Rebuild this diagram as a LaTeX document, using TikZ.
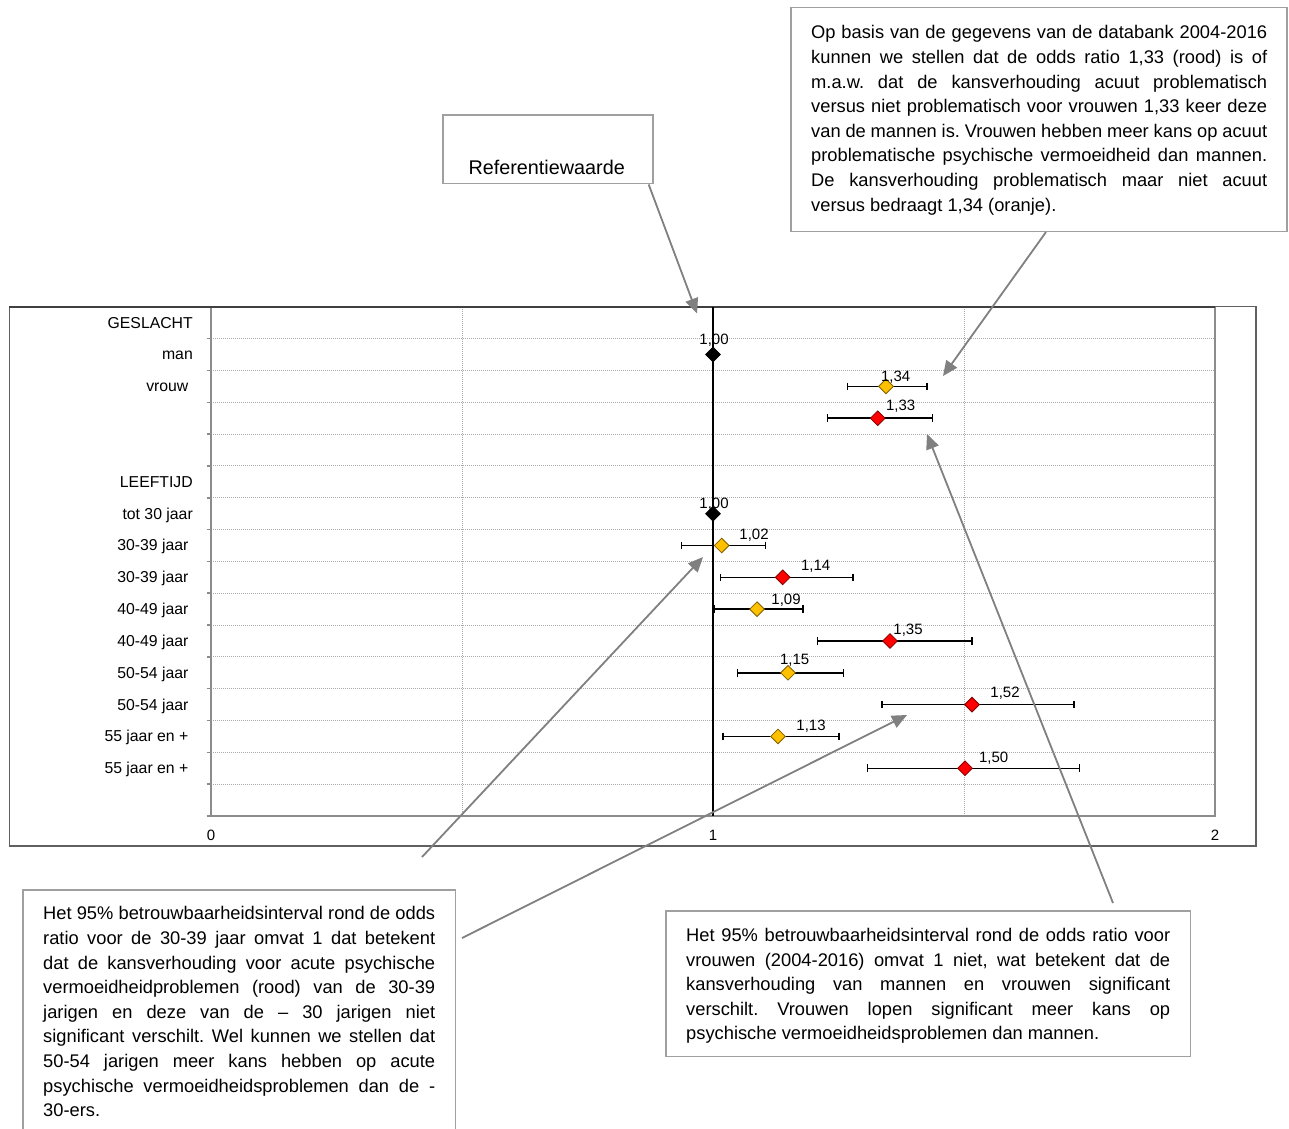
\documentclass[tikz,border=0pt]{standalone}
\usepackage{fontspec}
\setmainfont{Liberation Sans}
\usetikzlibrary{arrows.meta,shapes.geometric}
\definecolor{orng}{HTML}{FFC000}
\definecolor{orngdk}{HTML}{7F6000}
\definecolor{rd}{HTML}{FF0000}
\definecolor{rddk}{HTML}{800000}
\definecolor{callgray}{HTML}{808080}
\definecolor{boxgray}{HTML}{A0A0A0}
\definecolor{gridgray}{HTML}{ABABAB}
\definecolor{axisgray}{HTML}{8C8C8C}
\definecolor{topgray}{HTML}{404040}
\definecolor{framegray}{HTML}{606060}
\newcommand{\jline}[2]{\makebox[#1][s]{\spaceskip=0.278em plus 0.5em minus 0.09em\relax #2}}
\newcommand{\plainsp}{\spaceskip=0.278em plus 0.1em minus 0.05em\relax}
\begin{document}
\begin{tikzpicture}[x=1pt,y=-1pt,
  callout/.style={draw=callgray,line width=1.8pt,-{Triangle[length=15pt,width=13pt]}},
  notebox/.style={draw=boxgray,line width=1.8pt},
  notetext/.style={inner sep=0pt,anchor=base west,font=\fontsize{18.3pt}{24.6pt}\selectfont\frenchspacing},
  rowlab/.style={inner sep=0pt,anchor=base east,font=\fontsize{15.8pt}{18pt}\selectfont},
  vallab/.style={inner sep=0pt,anchor=base,font=\fontsize{15pt}{17pt}\selectfont},
  axlab/.style={inner sep=0pt,anchor=base,font=\fontsize{15pt}{17pt}\selectfont},
  gridline/.style={draw=gridgray,line width=0.9pt,dash pattern=on 1pt off 1pt},
  axisline/.style={draw=axisgray,line width=2pt},
  ebar/.style={line width=1.4pt},
  mk/.style={diamond,draw,line width=0.8pt,inner sep=0pt,minimum size=15pt}
]
\useasboundingbox (0,0) rectangle (1289,1128);
\fill[white] (0,0) rectangle (1289,1128);

% ---------- chart frame ----------
\draw[framegray,line width=1.4pt] (9.3,306.5) rectangle (1256,846);
% grid
\foreach \k in {1,...,15}{
  \draw[gridline] (211,{306.8+31.825*\k}) -- (1215,{306.8+31.825*\k});
}
\draw[gridline] (462,306.8) -- (462,816);
\draw[gridline] (964,306.8) -- (964,816);
% ticks
\foreach \k in {0,...,16}{
  \draw[axisgray,line width=1.5pt] (206.5,{306.8+31.825*\k}) -- (211,{306.8+31.825*\k});
}
% plot borders
\draw[axisline] (211,306.8) -- (211,816) -- (1215,816) -- (1215,306.8);
\draw[topgray,line width=2.2pt] (9.3,306.8) -- (1215,306.8);
% reference line
\draw[black,line width=1.5pt] (713,306.8) -- (713,816);

% axis labels
\node[axlab] (ax0) at (211,840.7) {0};
\node[axlab] (ax1) at (713,840.7) {1};
\node[axlab] (ax2) at (1215,840.7) {2};

% row labels
\node[rowlab] (r0)  at (193,328.1) {GESLACHT};
\node[rowlab] (r1)  at (193,359.9) {man};
\node[rowlab] (r2)  at (188.6,391.7) {vrouw};
\node[rowlab] (r5)  at (193,487.2) {LEEFTIJD};
\node[rowlab] (r6)  at (193,519.1) {tot 30 jaar};
\node[rowlab] (r7)  at (188.6,550.9) {30-39 jaar};
\node[rowlab] (r8)  at (188.6,582.7) {30-39 jaar};
\node[rowlab] (r9)  at (188.6,614.6) {40-49 jaar};
\node[rowlab] (r10) at (188.6,646.4) {40-49 jaar};
\node[rowlab] (r11) at (188.6,678.2) {50-54 jaar};
\node[rowlab] (r12) at (188.6,710.0) {50-54 jaar};
\node[rowlab] (r13) at (188.6,741.9) {55 jaar en +};
\node[rowlab] (r14) at (188.6,773.7) {55 jaar en +};

% data points with confidence intervals
\foreach \n/\r/\x/\lo/\hi/\fc/\dc/\lx/\ly/\t in {
  p2/2/886/847.7/927/orng/orngdk/895.7/381.7/{1,34},
  p3/3/877.7/827.3/932.3/rd/rddk/900.7/410/{1,33},
  p5/7/721.7/681.7/765.7/orng/orngdk/754/539.3/{1,02},
  p6/8/782.7/720.7/853/rd/rddk/815.7/570/{1,14},
  p7/9/757/714/803/orng/orngdk/786/604/{1,09},
  p8/10/890/817.7/972/rd/rddk/908/634.3/{1,35},
  p9/11/788/737.7/843.7/orng/orngdk/794.7/664/{1,15},
  p10/12/972/882/1074/rd/rddk/1005/697.7/{1,52},
  p11/13/778/723/839/orng/orngdk/811/730/{1,13},
  p12/14/965/867.7/1079.3/rd/rddk/993.7/762.3/{1,50}}{
  \pgfmathsetmacro\yy{306.8+31.825*(\r+0.5)}
  \draw[ebar] (\lo,\yy) -- (\hi,\yy);
  \draw[ebar] (\lo,\yy-3.8) -- (\lo,\yy+3.8);
  \draw[ebar] (\hi,\yy-3.8) -- (\hi,\yy+3.8);
  \node[mk,fill=\fc,draw=\dc] (\n) at (\x,\yy) {};
  \node[vallab] (\n lab) at (\lx,\ly) {\t};
}
% reference points
\node[mk,fill=black,draw=black] (p1) at (713,354.5) {};
\node[vallab] (p1lab) at (714,344.3) {1,00};
\node[mk,fill=black,draw=black] (p4) at (713,513.7) {};
\node[vallab] (p4lab) at (714,508.3) {1,00};

% ---------- note boxes ----------
\draw[notebox] (442.7,115) rectangle (653.3,183.5);
\node[inner sep=0pt,anchor=base,font=\fontsize{19.8pt}{22pt}\selectfont] (reftxt) at (546.7,174) {Referentiewaarde};

\draw[notebox] (791,7.5) rectangle (1287,231.5);
\node[notetext,text width=456pt] (toptxt) at (811,38.8) {\plainsp
\jline{456pt}{Op basis van de gegevens van de databank 2004-2016}\\
\jline{456pt}{kunnen we stellen dat de odds ratio 1,33 (rood) is of}\\
\jline{456pt}{m.a.w. dat de kansverhouding acuut problematisch}\\
\jline{456pt}{versus niet problematisch voor vrouwen 1,33 keer deze}\\
\jline{456pt}{van de mannen is. Vrouwen hebben meer kans op acuut}\\
\jline{456pt}{problematische psychische vermoeidheid dan mannen.}\\
\jline{456pt}{De kansverhouding problematisch maar niet acuut}\\
versus bedraagt 1,34 (oranje).};

\draw[notebox] (23,890) rectangle (455.5,1140);
\node[notetext,text width=392pt] (lefttxt) at (43,919.9) {\plainsp
\jline{392pt}{Het 95\% betrouwbaarheidsinterval rond de odds}\\
\jline{392pt}{ratio voor de 30-39 jaar omvat 1 dat betekent}\\
\jline{392pt}{dat de kansverhouding voor acute psychische}\\
\jline{392pt}{vermoeidheidproblemen (rood) van de 30-39}\\
\jline{392pt}{jarigen en deze van de – 30 jarigen niet}\\
\jline{392pt}{significant verschilt. Wel kunnen we stellen dat}\\
\jline{392pt}{50-54 jarigen meer kans hebben op acute}\\
\jline{392pt}{psychische vermoeidheidsproblemen dan de -}\\
30-ers.};

\draw[notebox] (666,911) rectangle (1190.5,1056.5);
\node[notetext,text width=484pt] (righttxt) at (686,941.5) {\plainsp
\jline{484pt}{Het 95\% betrouwbaarheidsinterval rond de odds ratio voor}\\
\jline{484pt}{vrouwen (2004-2016) omvat 1 niet, wat betekent dat de}\\
\jline{484pt}{kansverhouding van mannen en vrouwen significant}\\
\jline{484pt}{verschilt. Vrouwen lopen significant meer kans op}\\
psychische vermoeidheidsproblemen dan mannen.};

% ---------- callouts ----------
\coordinate (c1s) at (648.7,184.5);
\coordinate (c1e) at (697,313.5);
\coordinate (c2s) at (1046,232);
\coordinate (c2e) at (943,376);
\coordinate (c3s) at (1113,903);
\coordinate (c3e) at (927,434);
\coordinate (c4s) at (422,857);
\coordinate (c4e) at (703,557);
\coordinate (c5s) at (462,938);
\coordinate (c5e) at (907,715);
\draw[callout] (c1s) -- (c1e);
\draw[callout] (c2s) -- (c2e);
\draw[callout] (c3s) -- (c3e);
\draw[callout] (c4s) -- (c4e);
\draw[callout] (c5s) -- (c5e);
\end{tikzpicture}
\end{document}
